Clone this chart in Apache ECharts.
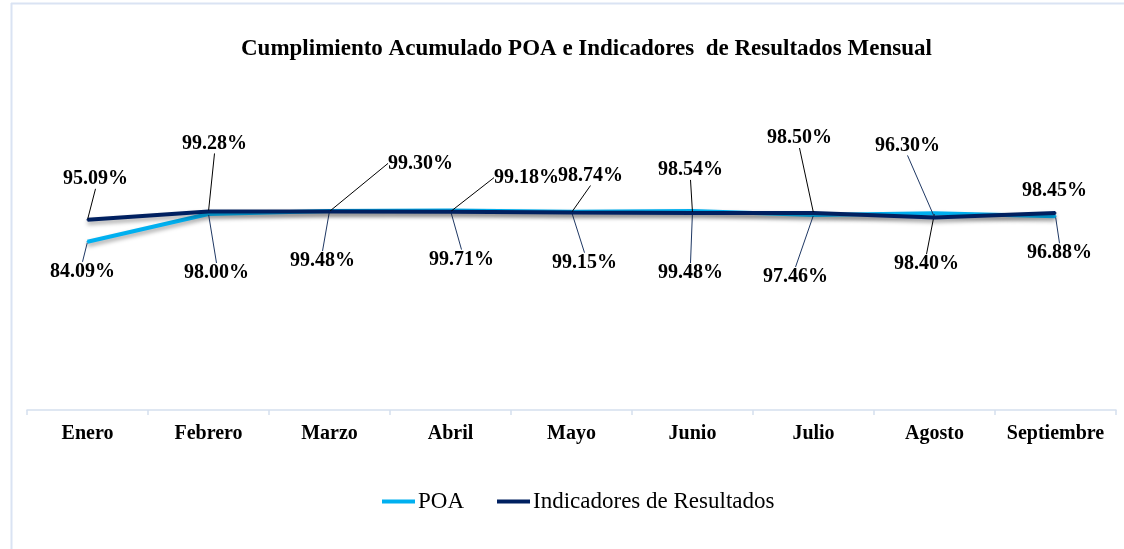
<!DOCTYPE html>
<html>
<head>
<meta charset="utf-8">
<script src="https://cdn.jsdelivr.net/npm/echarts@6/dist/echarts.min.js"></script>
<style>html,body{margin:0;padding:0;background:#fff}#c{width:1124px;height:549px}</style>
</head>
<body>
<div id="c"></div>
<script>
// ---- data ----
const categories = ['Enero','Febrero','Marzo','Abril','Mayo','Junio','Julio','Agosto','Septiembre'];
const poaValues = [84.09, 98.00, 99.48, 99.71, 99.15, 99.48, 97.46, 98.40, 96.88];
const indicadoresValues = [95.09, 99.28, 99.30, 99.18, 98.74, 98.54, 98.50, 96.30, 98.45];
const seriesNames = ['POA', 'Indicadores de Resultados'];

// ---- label placement (style, not data) ----
const poaLabelOffsets = [[-5,30],[8,59],[-7,50],[11,49],[13,51],[-2,62],[-18,62],[-8,51],[4,37]];
const indLabelOffsets = [[8,-41],[6,-68],[91,-48],[76,-34],[19,-37],[-2,-43],[-14,-75],[-27,-72],[-1,-22]];
const poaLeaderColors = ['#1f3864','#1f3864','#1f3864','#1f3864','#1f3864','#1f3864','#1f3864','#000','#1f3864'];
const indLeaderColors = ['#000','#000','#000','#000','#000','#000','#000','#1f3864',null];

const FONT = "'Liberation Serif','Times New Roman',serif";

function buildData(values, colors) {
  return values.map((v, i) => ({
    value: v,
    labelLine: colors[i] ? { show: true, lineStyle: { color: colors[i], width: 1 } } : { show: false }
  }));
}
function layoutFn(offsets) {
  return function (p) {
    const o = offsets[p.dataIndex];
    return {
      x: p.rect.x + p.rect.width / 2 + o[0],
      y: p.rect.y + p.rect.height / 2 + o[1],
      align: 'center',
      verticalAlign: 'middle',
      hideOverlap: false
    };
  };
}
const labelCommon = {
  show: true,
  formatter: p => p.value.toFixed(2) + '%',
  fontFamily: FONT,
  fontWeight: 'bold',
  fontSize: 20,
  color: '#000'
};

const chart = echarts.init(document.getElementById('c'));
chart.setOption({
  animation: false,
  backgroundColor: '#fff',
  title: {
    text: 'Cumplimiento Acumulado POA e Indicadores  de Resultados Mensual',
    left: 236,
    top: 33,
    textStyle: { fontFamily: FONT, fontWeight: 'bold', fontSize: 23, color: '#000' }
  },
  legend: {
    data: seriesNames,
    bottom: 31,
    left: 377,
    icon: 'rect',
    itemWidth: 33,
    itemHeight: 4,
    itemGap: 33,
    textStyle: { fontFamily: FONT, fontSize: 23, color: '#000', padding: [0, 0, 0, -2] }
  },
  grid: { left: 27, right: 8, top: 210, bottom: 139 },
  xAxis: {
    type: 'category',
    data: categories,
    boundaryGap: true,
    axisLine: { lineStyle: { color: '#d5dfee', width: 1.5 } },
    axisTick: { show: true, interval: 0, length: 5, lineStyle: { color: '#d5dfee', width: 1.5 } },
    axisLabel: { interval: 0, fontFamily: FONT, fontWeight: 'bold', fontSize: 20, color: '#000', margin: 14 }
  },
  yAxis: {
    type: 'value', min: 0, max: 100, show: false,
    splitLine: { show: false }
  },
  graphic: [
    { type: 'line', shape: { x1: 11, y1: 3.5, x2: 1124, y2: 3.5 }, style: { stroke: '#dae3f3', lineWidth: 2 }, silent: true },
    { type: 'line', shape: { x1: 11.5, y1: 3, x2: 11.5, y2: 549 }, style: { stroke: '#dae3f3', lineWidth: 2 }, silent: true }
  ],
  series: [
    {
      name: seriesNames[0],
      type: 'line',
      data: buildData(poaValues, poaLeaderColors),
      color: '#00b0f0',
      symbol: 'circle',
      symbolSize: 2,
      showSymbol: true,
      itemStyle: { color: '#00b0f0' },
      lineStyle: { color: '#00b0f0', width: 4, shadowColor: 'rgba(0,0,0,0.35)', shadowBlur: 4, shadowOffsetY: 3 },
      label: labelCommon,
      labelLine: { show: true, lineStyle: { color: '#1f3864', width: 1 } },
      labelLayout: layoutFn(poaLabelOffsets),
      z: 2
    },
    {
      name: seriesNames[1],
      type: 'line',
      data: buildData(indicadoresValues, indLeaderColors),
      color: '#002060',
      symbol: 'circle',
      symbolSize: 2,
      showSymbol: true,
      itemStyle: { color: '#002060' },
      lineStyle: { color: '#002060', width: 4, shadowColor: 'rgba(0,0,0,0.35)', shadowBlur: 4, shadowOffsetY: 3 },
      label: labelCommon,
      labelLine: { show: true, lineStyle: { color: '#000', width: 1 } },
      labelLayout: layoutFn(indLabelOffsets),
      z: 3
    }
  ]
});
</script>
</body>
</html>
